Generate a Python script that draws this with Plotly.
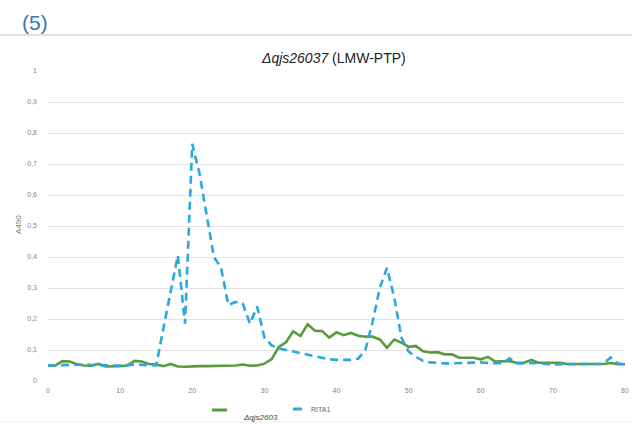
import plotly.graph_objects as go

fractions = list(range(0, 81))

qjs2603 = [0.050, 0.050, 0.064, 0.063, 0.054, 0.050, 0.049, 0.055, 0.047, 0.047,
           0.048, 0.050, 0.065, 0.063, 0.055, 0.053, 0.048, 0.055, 0.047, 0.046,
           0.048, 0.048, 0.048, 0.048, 0.048, 0.049, 0.050, 0.053, 0.049, 0.050,
           0.056, 0.070, 0.110, 0.125, 0.160, 0.145, 0.183, 0.162, 0.161, 0.140,
           0.157, 0.148, 0.155, 0.146, 0.143, 0.143, 0.134, 0.107, 0.134, 0.124,
           0.110, 0.113, 0.096, 0.092, 0.093, 0.086, 0.086, 0.075, 0.075, 0.075,
           0.070, 0.078, 0.063, 0.064, 0.064, 0.059, 0.059, 0.068, 0.059, 0.059,
           0.059, 0.059, 0.055, 0.055, 0.055, 0.055, 0.055, 0.055, 0.058, 0.054,
           0.054]

rita1 = [0.050, 0.050, 0.050, 0.052, 0.053, 0.052, 0.051, 0.050, 0.050, 0.050,
         0.050, 0.052, 0.053, 0.052, 0.050, 0.050, 0.170, 0.290, 0.405, 0.185,
         0.765, 0.670, 0.540, 0.400, 0.365, 0.245, 0.255, 0.250, 0.185, 0.240,
         0.140, 0.115, 0.105, 0.100, 0.095, 0.088, 0.085, 0.080, 0.075, 0.070,
         0.068, 0.068, 0.068, 0.072, 0.100, 0.190, 0.300, 0.365, 0.270, 0.140,
         0.095, 0.078, 0.065, 0.060, 0.058, 0.057, 0.057, 0.058, 0.058, 0.060,
         0.060, 0.058, 0.057, 0.057, 0.073, 0.057, 0.057, 0.058, 0.058, 0.055,
         0.052, 0.054, 0.054, 0.054, 0.054, 0.054, 0.054, 0.055, 0.076, 0.057,
         0.053]

y_ticks = [0, 0.1, 0.2, 0.3, 0.4, 0.5, 0.6, 0.7, 0.8, 0.9, 1]
y_tick_labels = ["0", "0,1", "0,2", "0,3", "0,4", "0,5", "0,6", "0,7", "0,8", "0,9", "1"]
x_ticks = [0, 10, 20, 30, 40, 50, 60, 70, 80]

GREEN = "#5b9a3c"
BLUE = "#2aa8df"
FONT = "Liberation Sans, Arial, sans-serif"

fig = go.Figure()
fig.add_trace(go.Scatter(x=fractions, y=qjs2603, mode="lines", name="Δqjs2603",
                         line=dict(color=GREEN, width=2.6), showlegend=False))
fig.add_trace(go.Scatter(x=fractions, y=rita1, mode="lines", name="RITA1",
                         line=dict(color=BLUE, width=2.6, dash="8px,5px"), showlegend=False))

W, H = 632, 424
ml, mr, mt, mb = 48, 7, 71, 43
pw, ph = W - ml - mr, H - mt - mb

def px(xp):
    return (xp - ml) / pw

def py(yp):
    return (H - mb - yp) / ph

fig.update_layout(
    width=W, height=H,
    margin=dict(l=ml, r=mr, t=mt, b=mb, autoexpand=False),
    paper_bgcolor="white", plot_bgcolor="white",
    font=dict(family=FONT, color="#777"),
    xaxis=dict(range=[0, 80], tickvals=x_ticks, showgrid=False, zeroline=False,
               showline=False, ticks="", tickfont=dict(size=7, color="#858585"),
               ticklabelstandoff=4, automargin=False),
    yaxis=dict(range=[0, 1], tickvals=y_ticks, ticktext=y_tick_labels,
               showgrid=True, gridcolor="#e4e4e4", gridwidth=1, zeroline=False,
               showline=False, ticks="", tickfont=dict(size=7, color="#858585"),
               ticklabelstandoff=10, automargin=False),
    showlegend=False,
)

shapes = [
    dict(type="line", xref="paper", yref="paper", x0=px(0), x1=px(W), y0=py(35), y1=py(35),
         line=dict(color="#d8d8d8", width=1.5)),
    dict(type="line", xref="paper", yref="paper", x0=px(0), x1=px(W), y0=py(422), y1=py(422),
         line=dict(color="#eeeeee", width=1)),
    dict(type="line", xref="paper", yref="paper", x0=px(212), x1=px(227), y0=py(410), y1=py(410),
         line=dict(color=GREEN, width=3)),
    dict(type="line", xref="paper", yref="paper", x0=px(293), x1=px(302), y0=py(409), y1=py(409),
         line=dict(color=BLUE, width=3)),
]
fig.update_layout(shapes=shapes)

annotations = [
    dict(text="(5)", xref="paper", yref="paper", x=px(20), y=py(22), xanchor="left",
         yanchor="middle", showarrow=False, font=dict(size=21, color="#3b72b4", family=FONT)),
    dict(text="<i>Δqjs26037</i> (LMW-PTP)", xref="paper", yref="paper", x=px(333), y=py(58),
         xanchor="center", yanchor="middle", showarrow=False,
         font=dict(size=14, color="#222", family=FONT)),
    dict(text="A490", xref="paper", yref="paper", x=px(18), y=py(225), textangle=-90,
         xanchor="center", yanchor="middle", showarrow=False,
         font=dict(size=8, color="#777", family=FONT)),
    dict(text="<i>Δqjs2603</i>", xref="paper", yref="paper", x=px(241), y=py(417),
         xanchor="left", yanchor="middle", showarrow=False,
         font=dict(size=8, color="#444", family=FONT)),
    dict(text="RITA1", xref="paper", yref="paper", x=px(309), y=py(409),
         xanchor="left", yanchor="middle", showarrow=False,
         font=dict(size=7, color="#666", family=FONT)),
]
fig.update_layout(annotations=annotations)

fig.write_html("out.html", config={"displayModeBar": False},
               post_script="document.body.style.margin='0';document.body.style.overflow='hidden';")
